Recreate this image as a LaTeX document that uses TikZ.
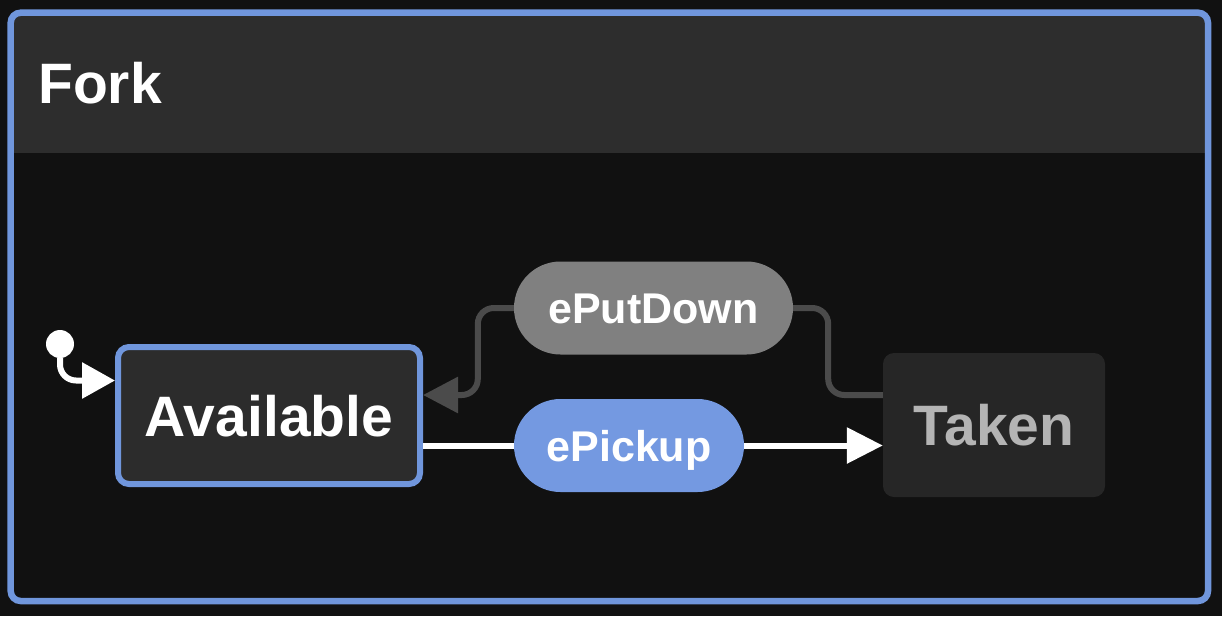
\documentclass[tikz,border=0pt]{standalone}
\usepackage{fontspec}
\setmainfont{Liberation Sans}
\usepackage{xcolor}
\usetikzlibrary{arrows.meta, shapes.misc}
\definecolor{colBg}{HTML}{111111}
\definecolor{colHead}{HTML}{2D2D2D}
\definecolor{colFrame}{RGB}{112,150,220}
\definecolor{colPick}{RGB}{116,153,225}
\definecolor{colState}{HTML}{2C2C2C}
\definecolor{colTaken}{HTML}{262626}
\definecolor{colTakenTxt}{HTML}{B4B4B4}
\definecolor{colPut}{HTML}{808080}
\definecolor{colEdge}{HTML}{4B4B4B}

\begin{document}
\begin{tikzpicture}[
  x=1pt, y=-1pt,
  arr/.style={line width=6pt},
  statebox/.style={rounded corners=11pt, inner sep=0pt, text depth=0pt, text height=41pt,
                   font=\fontsize{57}{60}\selectfont\bfseries},
  evpill/.style={rounded rectangle, inner sep=0pt, minimum height=93pt, text=white,
                 text depth=0pt, text height=31pt, font=\fontsize{43}{46}\selectfont\bfseries},
]
% canvas
\fill[colBg] (0,0) rectangle (1222,616);
\useasboundingbox (0,0) rectangle (1222,616);

% frame with header band
\begin{scope}
  \clip[rounded corners=10pt] (10.7,12.7) rectangle (1208,601);
  \fill[colHead] (0,0) rectangle (1222,153);
\end{scope}
\draw[colFrame, line width=6.5pt, rounded corners=10pt] (10.7,12.7) rectangle (1208,601);
\node[anchor=base west, inner sep=0pt, text=white, font=\fontsize{57}{60}\selectfont\bfseries]
  (title) at (38,103) {Fork};

% states
\node[statebox, draw=colFrame, line width=6pt, fill=colState, text=white,
      minimum width=302pt, minimum height=137pt] (avail) at (269,415.5) {Available};
\node[statebox, fill=colTaken, text=colTakenTxt,
      minimum width=222pt, minimum height=144pt] (taken) at (994,425) {Taken};

% events
\node[evpill, fill=colPick, minimum width=230pt] (pick) at (629,445.5) {ePickup};
\node[evpill, fill=colPut, minimum width=279pt] (put) at (653.5,308) {ePutDown};

% initial marker
\node[circle, fill=white, minimum size=28pt, inner sep=0pt] (init) at (60,344) {};
\draw[white, arr, rounded corners=16pt, -{Triangle[length=33pt, width=35pt]}]
  (init) |- ([yshift=35pt]avail.west);

% ePickup
\draw[white, arr] (avail.east |- pick.west) -- (pick.west);
\draw[white, arr, -{Triangle[length=36pt, width=35pt]}] (pick.east) -- (taken.west |- pick.east);

% ePutDown
\draw[colEdge, arr, rounded corners=16pt]
  ([yshift=30pt]taken.west) -| ([xshift=35pt]put.east) -- (put.east);
\draw[colEdge, arr, rounded corners=16pt, -{Triangle[length=35pt, width=35pt]}]
  (put.west) -- ++(-36,0) |- ([yshift=20.5pt]avail.east);
\end{tikzpicture}
\end{document}
